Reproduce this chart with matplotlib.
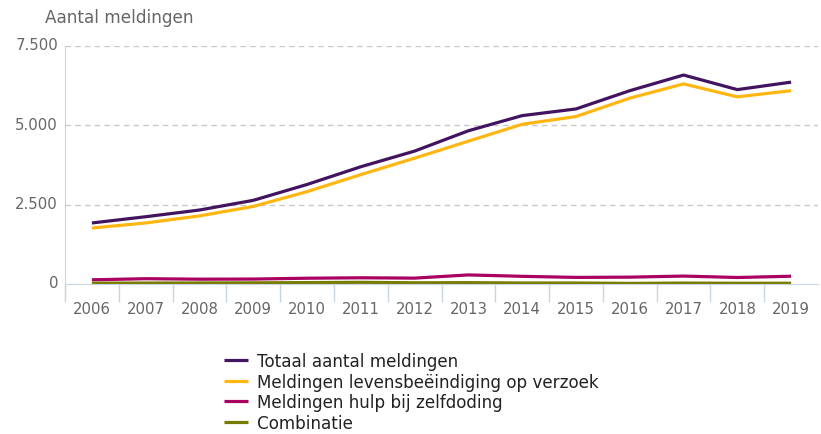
import numpy as np
import matplotlib.pyplot as plt
import matplotlib.transforms as mtransforms
from matplotlib.ticker import FuncFormatter

years = [2006, 2007, 2008, 2009, 2010, 2011, 2012, 2013, 2014, 2015, 2016, 2017, 2018, 2019]
totaal = [1923, 2120, 2331, 2636, 3136, 3695, 4188, 4829, 5306, 5516, 6091, 6585, 6126, 6361]
levensbeeindiging = [1765, 1923, 2146, 2443, 2910, 3446, 3965, 4501, 5033, 5277, 5856, 6306, 5898, 6092]
zelfdoding = [132, 167, 152, 156, 182, 196, 185, 286, 242, 208, 216, 250, 205, 245]
combinatie = [26, 30, 33, 37, 44, 53, 38, 42, 31, 31, 19, 29, 23, 24]

labels = ["Totaal aantal meldingen", "Meldingen levensbeëindiging op verzoek",
          "Meldingen hulp bij zelfdoding", "Combinatie"]
colors = ["#42145f", "#ffb612", "#a90061", "#777c00"]

fig = plt.figure(figsize=(8.21, 4.35), dpi=100)
ax = fig.add_axes([65 / 821, 150 / 435, 753 / 821, 238 / 435])

x = np.arange(len(years))
series = [totaal, levensbeeindiging, zelfdoding, combinatie]
for vals, lab, col in zip(series, labels, colors):
    ax.plot(x, vals, color=col, lw=2.3, label=lab, solid_capstyle="butt")

ax.set_xlim(-0.5, len(years) - 0.5)
ax.set_ylim(0, 7500)
ax.set_yticks([0, 2500, 5000, 7500])
ax.yaxis.set_major_formatter(FuncFormatter(lambda v, p: f"{int(v):,}".replace(",", ".")))
ax.set_xticks(x)
ax.set_xticklabels([str(y) for y in years])
ax.set_xticks(np.arange(-0.5, len(years) - 1), minor=True)

axis_col = "#c8d4e3"
for s in ["top", "right"]:
    ax.spines[s].set_visible(False)
ax.spines["left"].set_color(axis_col)
ax.spines["bottom"].set_color(axis_col)
ax.spines["left"].set_bounds(-420, 7500)
ax.tick_params(axis="x", which="major", length=0, pad=12, labelsize=10.7, labelcolor="#666666")
ax.tick_params(axis="x", which="minor", length=13, color=axis_col, width=1)
ax.tick_params(axis="y", length=0, pad=5, labelsize=10.7, labelcolor="#666666")
shift = mtransforms.ScaledTranslation(0, 1 / 100, fig.dpi_scale_trans)
for lab in ax.get_yticklabels():
    lab.set_verticalalignment("center")
    lab.set_transform(lab.get_transform() + shift)

for v in [2500, 5000, 7500]:
    ax.axhline(v, color="#c8c8c8", lw=1, ls=(0, (4, 3)), zorder=0)

fig.text(45 / 821, 1 - 18 / 435, "Aantal meldingen", fontsize=12.2, color="#666666", va="center")

leg = fig.legend(loc="upper left", bbox_to_anchor=(224 / 821, 1 - 353 / 435), frameon=False,
                 fontsize=12.1, handlelength=1.45, handletextpad=0.5, labelspacing=0.15,
                 borderaxespad=0, borderpad=0)
for t in leg.get_texts():
    t.set_color("#222222")

fig.savefig("out.png", dpi=100)
